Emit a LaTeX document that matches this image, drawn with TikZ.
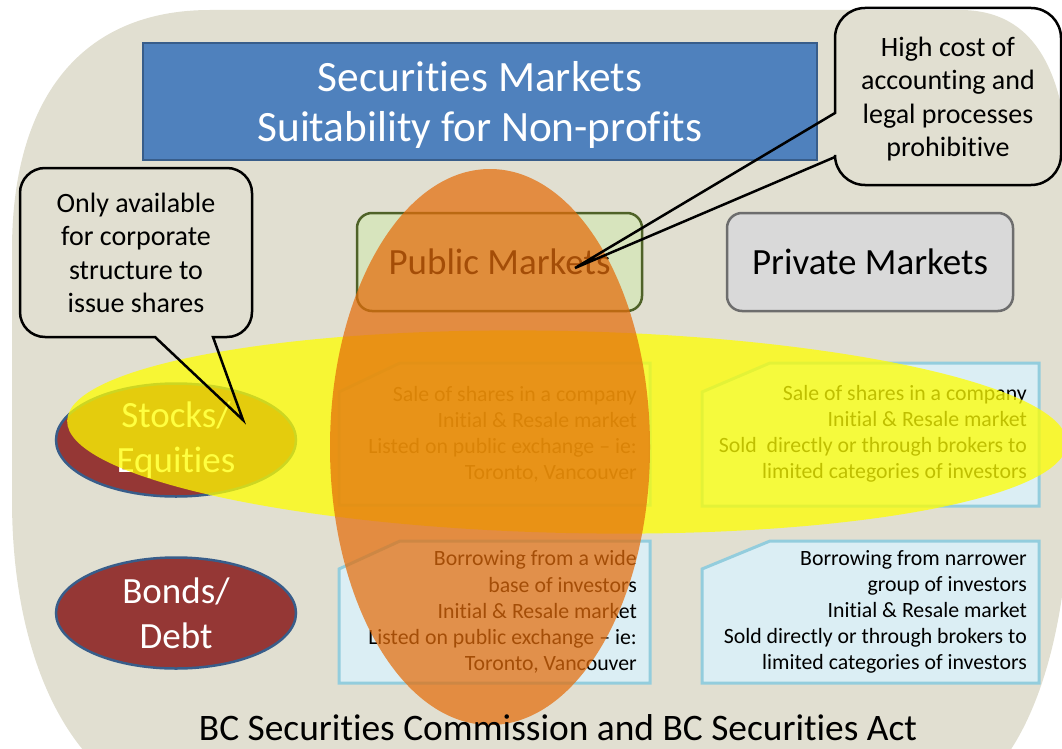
\documentclass[tikz,border=0pt]{standalone}
\usepackage{fontspec}
\setmainfont[Ligatures={TeX,NoCommon}]{Carlito}
\usetikzlibrary{shapes.geometric}
\definecolor{bgtan}{RGB}{225,223,209}
\definecolor{titleblue}{HTML}{4F81BD}
\definecolor{titleborder}{HTML}{385D8A}
\definecolor{pubfill}{HTML}{D7E4BD}
\definecolor{pubborder}{HTML}{4F6228}
\definecolor{privfill}{HTML}{D9D9D9}
\definecolor{privborder}{HTML}{6D6D6D}
\definecolor{darkred}{HTML}{953735}
\definecolor{boxfill}{HTML}{DBEEF4}
\definecolor{boxborder}{HTML}{93CDDD}
\definecolor{hiyellow}{HTML}{FFFF00}
\definecolor{hiorange}{HTML}{E46C0A}
\begin{document}
\begin{tikzpicture}[x=1pt,y=-1pt,
  titlebox/.style={draw=titleborder,line width=2pt,fill=titleblue,
    minimum width=674pt,minimum height=117pt,inner sep=0pt},
  titletext/.style={text=white,align=center,inner sep=0pt,
    font=\fontsize{43.3}{50}\selectfont},
  mktbox/.style={rounded corners=15pt,line width=2.5pt,minimum width=285pt,minimum height=98pt,
    inner sep=0pt,font=\fontsize{37}{44}\selectfont},
  kind/.style={ellipse,draw=titleborder,line width=2.5pt,fill=darkred,text=white,
    minimum width=240pt,minimum height=113pt,inner sep=0pt,align=center,
    font=\fontsize{37}{45}\selectfont},
  snipbox/.style={draw=boxborder,line width=3pt,fill=boxfill},
  boxtext/.style={anchor=east,align=right,inner sep=0pt,font=\fontsize{21.8}{26.1}\selectfont},
  callout/.style={draw=black,line width=2.5pt,line join=miter},
  callouttext/.style={align=center,inner sep=0pt,font=\fontsize{28}{33.5}\selectfont}
]
\useasboundingbox (0,0) rectangle (1062,749);
% background
\fill[bgtan] (210,10) -- (960,10) .. controls (1040,10) and (1070,80) .. (1070,200)
  -- (1070,480) .. controls (1070,640) and (1030,760) .. (960,800)
  -- (150,800) .. controls (70,770) and (12,660) .. (12,500)
  -- (12,250) .. controls (12,100) and (80,10) .. (210,10) -- cycle;
% title
\node[titlebox] (title) at (480,101.5) {};
\node[titletext] (titlelbl) at (480,104.5) {Securities Markets\\Suitability for Non-profits};
% market headers
\node[mktbox,draw=pubborder,fill=pubfill] (public) at (499.5,262) {Public Markets};
\node[mktbox,draw=privborder,fill=privfill,minimum width=286pt] (private) at (870,262) {Private Markets};
% instrument ellipses
\node[kind] (stocks) at (176,440) {Stocks/\\Equities};
\node[kind,minimum height=111pt] (bonds) at (176,613) {Bonds/\\Debt};
% snipped boxes
\draw[snipbox] (400,363) -- (650,363) -- (650,505) -- (339,505) -- (339,392) -- cycle;
\draw[snipbox] (400,541) -- (650,541) -- (650,683) -- (339,683) -- (339,569) -- cycle;
\draw[snipbox] (770,363) -- (1039,363) -- (1039,506) -- (702,506) -- (702,392) -- cycle;
\draw[snipbox] (770,541) -- (1039,541) -- (1039,683) -- (702,683) -- (702,569) -- cycle;
\node[boxtext] (pubstock) at (637,434) {Sale of shares in a company\\Initial \& Resale market\\Listed on public exchange \textendash{} ie:\\Toronto, Vancouver};
\node[boxtext] (pubbond) at (637,612) {Borrowing from a wide\\base of investors\\Initial \& Resale market\\Listed on public exchange \textendash{} ie:\\Toronto, Vancouver};
\node[boxtext] (privstock) at (1027,434) {Sale of shares in a company\\Initial \& Resale market\\Sold~ directly or through brokers to\\limited categories of investors};
\node[boxtext] (privbond) at (1027,612) {Borrowing from narrower\\group of investors\\Initial \& Resale market\\Sold directly or through brokers to\\limited categories of investors};
% highlight ellipses
\fill[hiyellow,opacity=0.75,rotate around={-1.3:(567,432)}] (567,432) ellipse[x radius=500, y radius=101];
\fill[hiorange,opacity=0.72] (490,447) ellipse[x radius=160, y radius=278];
% callouts
\coordinate (tipA) at (243,420);
\coordinate (tipB) at (575,268);
\draw[callout] (155,337) -- (45,337) arc[start angle=90,end angle=180,radius=25] -- (20,193)
  arc[start angle=180,end angle=270,radius=25] -- (227,168)
  arc[start angle=270,end angle=360,radius=25] -- (252,312)
  arc[start angle=0,end angle=90,radius=25] -- (213,337) -- (tipA) -- cycle;
\node[callouttext] (noteA) at (136,253) {Only available\\for corporate\\structure to\\issue shares};
\draw[callout] (835,113) -- (835,38) arc[start angle=180,end angle=270,radius=30] -- (1031,8)
  arc[start angle=270,end angle=360,radius=30] -- (1061,155)
  arc[start angle=0,end angle=90,radius=30] -- (865,185)
  arc[start angle=90,end angle=180,radius=30] -- (835,157) -- (tipB) -- cycle;
\node[callouttext] (noteB) at (948,99) {High cost of\\accounting and\\legal processes\\prohibitive};
% bottom caption
\node[inner sep=0pt,font=\fontsize{37.4}{44}\selectfont] (act) at (558,728) {BC Securities Commission and BC Securities Act};
\end{tikzpicture}
\end{document}
